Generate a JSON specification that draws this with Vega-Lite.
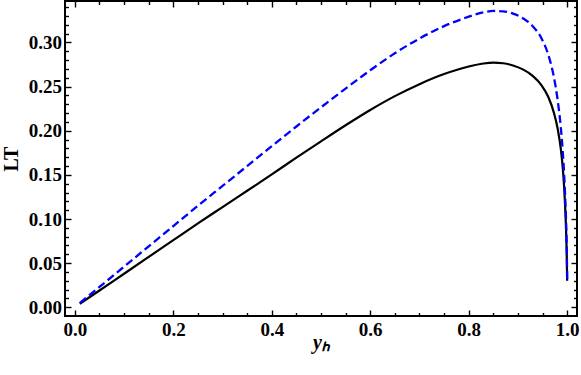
{
  "$schema": "https://vega.github.io/schema/vega-lite/v6.json",
  "autosize": {"type": "none"},
  "width": 512,
  "height": 315,
  "padding": {"left": 65, "top": 1, "right": 4, "bottom": 59},
  "background": "white",
  "datasets": {
    "black": [
      {"x": 0.01, "y": 0.004}, {"x": 0.05, "y": 0.019}, {"x": 0.1, "y": 0.038}, {"x": 0.15, "y": 0.057},
      {"x": 0.2, "y": 0.076}, {"x": 0.25, "y": 0.095}, {"x": 0.3, "y": 0.1135}, {"x": 0.35, "y": 0.132},
      {"x": 0.4, "y": 0.1505}, {"x": 0.45, "y": 0.1695}, {"x": 0.5, "y": 0.188}, {"x": 0.55, "y": 0.2062},
      {"x": 0.6, "y": 0.2235}, {"x": 0.65, "y": 0.2392}, {"x": 0.7, "y": 0.2528}, {"x": 0.75, "y": 0.2642},
      {"x": 0.8, "y": 0.2728}, {"x": 0.83, "y": 0.2762}, {"x": 0.85, "y": 0.2772}, {"x": 0.87, "y": 0.2765},
      {"x": 0.89, "y": 0.274}, {"x": 0.91, "y": 0.2695}, {"x": 0.93, "y": 0.2622}, {"x": 0.948, "y": 0.2515},
      {"x": 0.962, "y": 0.238}, {"x": 0.973, "y": 0.2205}, {"x": 0.981, "y": 0.2015}, {"x": 0.987, "y": 0.18},
      {"x": 0.9915, "y": 0.155}, {"x": 0.995, "y": 0.125}, {"x": 0.9975, "y": 0.092}, {"x": 0.9992, "y": 0.058},
      {"x": 1.0, "y": 0.03}
    ],
    "blue": [
      {"x": 0.01, "y": 0.0048}, {"x": 0.05, "y": 0.023}, {"x": 0.1, "y": 0.046}, {"x": 0.15, "y": 0.069},
      {"x": 0.2, "y": 0.092}, {"x": 0.25, "y": 0.115}, {"x": 0.3, "y": 0.1375}, {"x": 0.35, "y": 0.16},
      {"x": 0.4, "y": 0.1825}, {"x": 0.45, "y": 0.2048}, {"x": 0.5, "y": 0.2265}, {"x": 0.55, "y": 0.2478},
      {"x": 0.6, "y": 0.2685}, {"x": 0.65, "y": 0.2878}, {"x": 0.7, "y": 0.3045}, {"x": 0.75, "y": 0.3185},
      {"x": 0.8, "y": 0.3292}, {"x": 0.83, "y": 0.3342}, {"x": 0.85, "y": 0.3357}, {"x": 0.87, "y": 0.3352},
      {"x": 0.89, "y": 0.3327}, {"x": 0.91, "y": 0.3275}, {"x": 0.93, "y": 0.3185}, {"x": 0.948, "y": 0.3045},
      {"x": 0.962, "y": 0.2855}, {"x": 0.973, "y": 0.261}, {"x": 0.981, "y": 0.2335}, {"x": 0.987, "y": 0.2045},
      {"x": 0.991, "y": 0.177}, {"x": 0.994, "y": 0.149}, {"x": 0.9965, "y": 0.118}, {"x": 0.9982, "y": 0.09},
      {"x": 0.9994, "y": 0.06}, {"x": 1.0, "y": 0.032}
    ]
  },
  "layer": [
    {
      "data": {"name": "black"},
      "mark": {"type": "line", "color": "black", "strokeWidth": 2.2, "interpolate": "monotone"},
      "encoding": {
        "x": {
          "field": "x", "type": "quantitative",
          "scale": {"domain": [-0.02, 1.02], "nice": false, "zero": false},
          "axis": {
            "orient": "bottom", "values": [0, 0.2, 0.4, 0.6, 0.8, 1.0], "format": ".1f",
            "tickSize": -6, "labelPadding": 10.5, "title": "yₕ", "titleFontStyle": "italic",
            "titleFontSize": 20, "titlePadding": -7
          }
        },
        "y": {
          "field": "y", "type": "quantitative",
          "scale": {"domain": [-0.0099, 0.347], "nice": false, "zero": false},
          "axis": {
            "orient": "left", "values": [0, 0.05, 0.1, 0.15, 0.2, 0.25, 0.3], "format": ".2f",
            "tickSize": -6, "labelPadding": 9.5, "title": "LT", "titleFontSize": 20, "titlePadding": 7
          }
        }
      }
    },
    {
      "data": {"name": "blue"},
      "mark": {"type": "line", "color": "#0000ff", "strokeWidth": 2.3, "strokeDash": [8, 4], "interpolate": "monotone"},
      "encoding": {
        "x": {
          "field": "x", "type": "quantitative",
          "scale": {"domain": [-0.02, 1.02], "nice": false, "zero": false},
          "axis": {
            "orient": "bottom", "labels": false, "title": null, "tickSize": -3.5,
            "values": [0.05, 0.1, 0.15, 0.25, 0.3, 0.35, 0.45, 0.5, 0.55, 0.65, 0.7, 0.75, 0.85, 0.9, 0.95]
          }
        },
        "y": {
          "field": "y", "type": "quantitative",
          "scale": {"domain": [-0.0099, 0.347], "nice": false, "zero": false},
          "axis": {
            "orient": "left", "labels": false, "title": null, "tickSize": -3.5,
            "values": [0.01, 0.02, 0.03, 0.04, 0.06, 0.07, 0.08, 0.09, 0.11, 0.12, 0.13, 0.14, 0.16, 0.17, 0.18, 0.19, 0.21, 0.22, 0.23, 0.24, 0.26, 0.27, 0.28, 0.29, 0.31, 0.32, 0.33, 0.34]
          }
        }
      }
    },
    {
      "data": {"name": "black"},
      "mark": {"type": "line", "opacity": 0},
      "encoding": {
        "x": {
          "field": "x", "type": "quantitative",
          "scale": {"domain": [-0.02, 1.02], "nice": false, "zero": false},
          "axis": {"orient": "top", "labels": false, "title": null, "tickSize": -6, "values": [0, 0.2, 0.4, 0.6, 0.8, 1.0]}
        },
        "y": {
          "field": "y", "type": "quantitative",
          "scale": {"domain": [-0.0099, 0.347], "nice": false, "zero": false},
          "axis": {"orient": "right", "labels": false, "title": null, "tickSize": -6, "values": [0, 0.05, 0.1, 0.15, 0.2, 0.25, 0.3]}
        }
      }
    },
    {
      "data": {"name": "black"},
      "mark": {"type": "line", "opacity": 0},
      "encoding": {
        "x": {
          "field": "x", "type": "quantitative",
          "scale": {"domain": [-0.02, 1.02], "nice": false, "zero": false},
          "axis": {
            "orient": "top", "labels": false, "title": null, "tickSize": -3.5,
            "values": [0.05, 0.1, 0.15, 0.25, 0.3, 0.35, 0.45, 0.5, 0.55, 0.65, 0.7, 0.75, 0.85, 0.9, 0.95]
          }
        },
        "y": {
          "field": "y", "type": "quantitative",
          "scale": {"domain": [-0.0099, 0.347], "nice": false, "zero": false},
          "axis": {
            "orient": "right", "labels": false, "title": null, "tickSize": -3.5,
            "values": [0.01, 0.02, 0.03, 0.04, 0.06, 0.07, 0.08, 0.09, 0.11, 0.12, 0.13, 0.14, 0.16, 0.17, 0.18, 0.19, 0.21, 0.22, 0.23, 0.24, 0.26, 0.27, 0.28, 0.29, 0.31, 0.32, 0.33, 0.34]
          }
        }
      }
    }
  ],
  "resolve": {"axis": {"x": "independent", "y": "independent"}},
  "config": {
    "view": {"stroke": "black", "strokeWidth": 2},
    "axis": {
      "domain": false, "grid": false, "ticks": true, "tickColor": "black", "tickWidth": 1.4,
      "labelFont": "Liberation Serif", "labelFontWeight": "bold", "labelFontSize": 19, "labelColor": "black",
      "titleFont": "Liberation Serif", "titleFontWeight": "bold", "titleColor": "black"
    }
  }
}
